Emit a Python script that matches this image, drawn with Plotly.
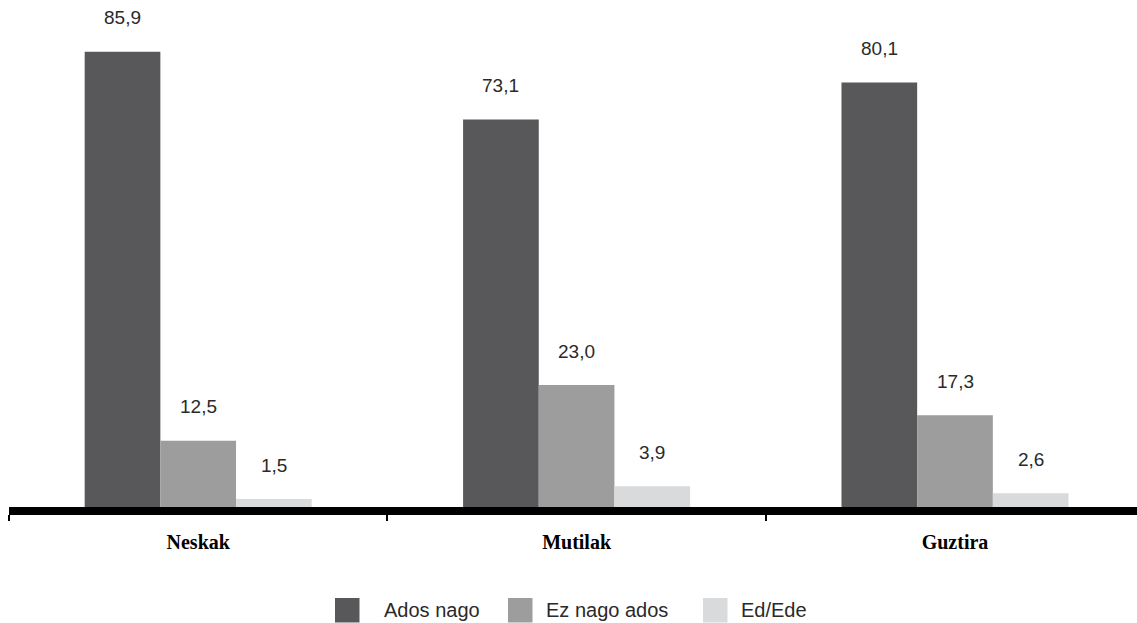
import plotly.graph_objects as go

# ---- data ----
categories = ["Neskak", "Mutilak", "Guztira"]
series_names = ["Ados nago", "Ez nago ados", "Ed/Ede"]
ados_nago = [85.9, 73.1, 80.1]
ez_nago_ados = [12.5, 23.0, 17.3]
ed_ede = [1.5, 3.9, 2.6]
series_values = [ados_nago, ez_nago_ados, ed_ede]

# ---- style ----
colors = ["#58585a", "#9d9d9e", "#d9dadb"]
W, H = 1137, 623
ML, MR, MT, MB = 9, 0, 0, 116
plot_w = W - ML - MR
plot_h = H - MT - MB
px_per_cat = 378.4
x_range = [-0.5, -0.5 + plot_w / px_per_cat]
px_per_unit = 5.3
y_range = [0, plot_h / px_per_unit]
bargap = 0.4
bar_px = (1 - bargap) / 3 * px_per_cat

label_font = dict(family="Liberation Sans, Arial, sans-serif", size=19, color="#2a2a2a")
legend_font = dict(family="Liberation Sans, Arial, sans-serif", size=20, color="#2a2a2a")


def fmt(v):
    return f"{v:.1f}".replace(".", ",")


fig = go.Figure()
for name, vals, col in zip(series_names, series_values, colors):
    fig.add_trace(go.Bar(x=categories, y=vals, name=name, marker=dict(color=col, line=dict(width=0)),
                         showlegend=False, hoverinfo="skip"))

annotations = []
for s, vals in enumerate(series_values):
    for c, v in zip(categories, vals):
        annotations.append(dict(x=c, y=v, xref="x", yref="y", text=fmt(v), showarrow=False,
                                xshift=(s - 1) * bar_px, yshift=34, yanchor="middle",
                                xanchor="center", font=label_font))


def pxx(px):
    return (px - ML) / plot_w


def pxy(py):
    return (MT + plot_h - py) / plot_h


# custom legend
legend_sq_left = [335, 508, 703]
legend_txt_left = [382, 544, 739]
sq_size = 24.5
sq_top = 598
shapes = []
for name, col, sx, tx in zip(series_names, colors, legend_sq_left, legend_txt_left):
    shapes.append(dict(type="rect", xref="paper", yref="paper",
                       x0=pxx(sx), x1=pxx(sx + sq_size), y0=pxy(sq_top + sq_size), y1=pxy(sq_top),
                       fillcolor=col, line=dict(width=0), layer="above"))
    annotations.append(dict(x=pxx(tx), y=pxy(sq_top + sq_size / 2), xref="paper", yref="paper",
                            text=name, showarrow=False, xanchor="left", yanchor="middle",
                            font=legend_font))

fig.update_layout(
    width=W, height=H,
    margin=dict(l=ML, r=MR, t=MT, b=MB),
    paper_bgcolor="white", plot_bgcolor="white",
    barmode="group", bargap=bargap, bargroupgap=0,
    showlegend=False,
    annotations=annotations,
    shapes=shapes,
    xaxis=dict(type="category", range=x_range, tickson="boundaries", ticks="outside",
               ticklen=6, tickwidth=1.5, tickcolor="black", ticklabelstandoff=10,
               showline=True, linewidth=7.6, linecolor="black", showgrid=False, zeroline=False,
               tickfont=dict(family="Liberation Serif, Times New Roman, serif", size=20,
                             color="black", weight="bold"),
               fixedrange=True),
    yaxis=dict(visible=False, range=y_range, fixedrange=True),
)

fig.write_html("out.html", config=dict(displayModeBar=False),
               post_script="document.body.style.margin='0';")
